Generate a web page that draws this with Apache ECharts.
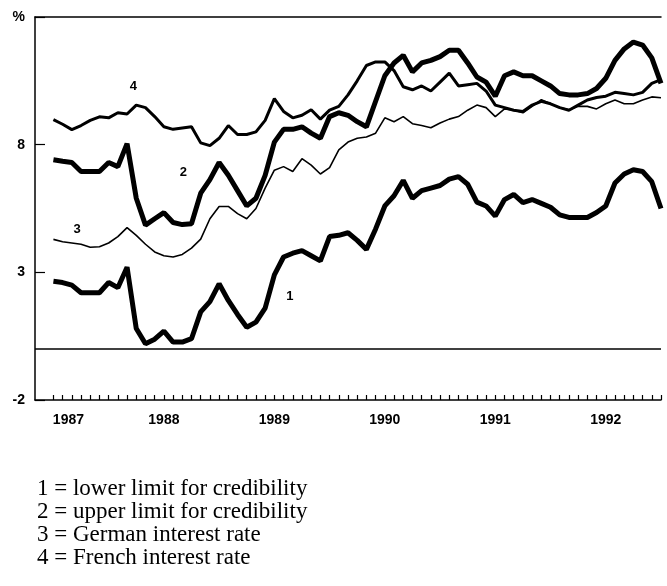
<!DOCTYPE html>
<html>
<head>
<meta charset="utf-8">
<title>Credibility limits</title>
<script src="https://cdn.jsdelivr.net/npm/echarts@6/dist/echarts.min.js"></script>
<style>
  html, body { margin: 0; padding: 0; background: #fff; }
  #chart { width: 667px; height: 586px; }
</style>
</head>
<body>
<div id="chart"></div>
<script>
// monthly categories, two blank months before Jan 1987 so the axis starts left of the first point
var years = ['1987', '1988', '1989', '1990', '1991', '1992'];
var months = [];
for (var m = -2; m <= 66; m++) {
    var y = 1987 + Math.floor(m / 12);
    var mm = ((m % 12) + 12) % 12 + 1;
    months.push(y + '-' + (mm < 10 ? '0' + mm : mm));
}

// 1 = lower limit for credibility
var lowerLimit = [2.65, 2.6, 2.5, 2.2, 2.2, 2.2, 2.6, 2.4, 3.2, 0.8,
    0.2, 0.38, 0.7, 0.27, 0.27, 0.4, 1.45, 1.85, 2.55, 1.9,
    1.35, 0.85, 1.05, 1.6, 2.9, 3.6, 3.75, 3.85, 3.65, 3.45,
    4.4, 4.45, 4.55, 4.25, 3.9, 4.7, 5.6, 6.0, 6.6, 5.9,
    6.2, 6.3, 6.4, 6.65, 6.75, 6.45, 5.75, 5.6, 5.2, 5.85,
    6.05, 5.73, 5.85, 5.7, 5.55, 5.25, 5.15, 5.15, 5.15, 5.34,
    5.6, 6.5, 6.85, 7.02, 6.95, 6.55, 5.5];
// 2 = upper limit for credibility
var upperLimit = [7.41, 7.35, 7.3, 6.95, 6.95, 6.95, 7.3, 7.14, 8.04, 5.9,
    4.85, 5.1, 5.34, 4.95, 4.87, 4.9, 6.1, 6.63, 7.3, 6.8,
    6.2, 5.6, 5.9, 6.8, 8.1, 8.6, 8.6, 8.7, 8.45, 8.25,
    9.1, 9.25, 9.15, 8.9, 8.7, 9.7, 10.7, 11.2, 11.5, 10.85,
    11.2, 11.3, 11.45, 11.7, 11.7, 11.2, 10.65, 10.45, 9.9, 10.7,
    10.85, 10.7, 10.7, 10.5, 10.3, 10.0, 9.95, 9.95, 10.0, 10.2,
    10.6, 11.3, 11.75, 12.02, 11.9, 11.4, 10.4];
// 3 = German interest rate
var germanRate = [4.29, 4.2, 4.15, 4.1, 3.98, 4.0, 4.15, 4.4, 4.75, 4.45,
    4.1, 3.8, 3.65, 3.6, 3.7, 3.95, 4.3, 5.1, 5.58, 5.58,
    5.3, 5.1, 5.5, 6.3, 7.0, 7.14, 6.95, 7.45, 7.2, 6.85,
    7.1, 7.8, 8.1, 8.25, 8.3, 8.45, 9.05, 8.9, 9.1, 8.82,
    8.75, 8.66, 8.85, 9.0, 9.1, 9.35, 9.55, 9.45, 9.1, 9.4,
    9.35, 9.25, 9.5, 9.76, 9.6, 9.45, 9.37, 9.5, 9.5, 9.4,
    9.6, 9.75, 9.6, 9.6, 9.75, 9.87, 9.84];
// 4 = French interest rate
var frenchRate = [8.98, 8.8, 8.59, 8.75, 8.95, 9.09, 9.05, 9.25, 9.2, 9.55,
    9.45, 9.1, 8.7, 8.6, 8.65, 8.7, 8.07, 7.96, 8.25, 8.75,
    8.4, 8.4, 8.5, 8.95, 9.8, 9.3, 9.05, 9.15, 9.37, 9.0,
    9.35, 9.5, 9.95, 10.5, 11.1, 11.24, 11.24, 10.9, 10.27, 10.15,
    10.3, 10.1, 10.45, 10.8, 10.3, 10.35, 10.4, 10.1, 9.55, 9.45,
    9.35, 9.3, 9.55, 9.7, 9.6, 9.45, 9.35, 9.55, 9.75, 9.85,
    9.9, 10.05, 10.0, 9.95, 10.05, 10.4, 10.55];

var legendLines = [
    '1 = lower limit for credibility',
    '2 = upper limit for credibility',
    '3 = German interest rate',
    '4 = French interest rate'
];

function pad(arr) {
    return [null, null].concat(arr);
}

// small number tag placed at a category / value
function tag(text, cat, val, dx) {
    return {
        symbol: 'circle',
        symbolSize: 0,
        silent: true,
        label: {
            show: true, position: 'inside', formatter: text, offset: [dx, 0],
            color: '#000', fontFamily: 'Liberation Sans', fontSize: 13, fontWeight: 'bold'
        },
        data: [{ coord: [months[cat + 2], val] }]
    };
}

var chart = echarts.init(document.getElementById('chart'));

var axisFont = { color: '#000', fontFamily: 'Liberation Sans', fontSize: 14, fontWeight: 'bold' };

var option = {
    animation: false,
    backgroundColor: '#fff',
    grid: { left: 35, right: 6, top: 17, bottom: 186, containLabel: false },
    xAxis: [{
        type: 'category',
        data: months,
        boundaryGap: false,
        axisLine: { show: true, onZero: false, lineStyle: { color: '#000', width: 1.5 } },
        axisTick: {
            show: true, inside: true, length: 5,
            interval: function (index) { return index >= 2; },
            lineStyle: { color: '#000', width: 1.2 }
        },
        axisLabel: Object.assign({
            interval: function (index) { return index >= 2 && (index - 2) % 12 === 0; },
            margin: 13,
            formatter: function (value, index) {
                var y = years[Math.floor((index - 2) / 12)];
                return index === 2 ? '{first|' + y + '}' : y;
            },
            rich: { first: Object.assign({ padding: [0, 0, 0, 30] }, axisFont) }
        }, axisFont),
        splitLine: { show: false }
    }, {
        type: 'category',
        data: months,
        position: 'top',
        boundaryGap: false,
        axisLine: { show: true, onZero: false, lineStyle: { color: '#000', width: 1.5 } },
        axisTick: { show: false },
        axisLabel: { show: false },
        splitLine: { show: false }
    }],
    yAxis: {
        type: 'value',
        min: -2,
        max: 13,
        interval: 5,
        axisLine: { show: true, lineStyle: { color: '#000', width: 1.5 } },
        axisTick: { show: true, inside: true, length: 10, lineStyle: { color: '#000', width: 1.2 } },
        axisLabel: Object.assign({
            margin: 10,
            formatter: function (v) { return v === 13 ? '%' : String(v); }
        }, axisFont),
        splitLine: { show: false }
    },
    series: [{
        name: 'lower limit for credibility',
        type: 'line',
        data: pad(lowerLimit),
        symbol: 'none',
        lineStyle: { color: '#000', width: 5 },
        markPoint: tag('1', 26, 2.06, -3),
        markLine: {
            silent: true,
            symbol: 'none',
            label: { show: false },
            lineStyle: { color: '#000', width: 1.5, type: 'solid' },
            data: [{ yAxis: 0 }]
        }
    }, {
        name: 'upper limit for credibility',
        type: 'line',
        data: pad(upperLimit),
        symbol: 'none',
        lineStyle: { color: '#000', width: 5 },
        markPoint: tag('2', 14, 6.9, 1)
    }, {
        name: 'German interest rate',
        type: 'line',
        data: pad(germanRate),
        symbol: 'none',
        lineStyle: { color: '#000', width: 1.6 },
        markPoint: tag('3', 3, 4.68, -4)
    }, {
        name: 'French interest rate',
        type: 'line',
        data: pad(frenchRate),
        symbol: 'none',
        lineStyle: { color: '#000', width: 3 },
        markPoint: tag('4', 9, 10.27, -3)
    }],
    graphic: [{
        type: 'text',
        left: 37,
        top: 477,
        style: {
            text: legendLines.join('\n'),
            fontFamily: 'Liberation Serif',
            fontSize: 23,
            lineHeight: 23,
            fill: '#000'
        }
    }]
};

chart.setOption(option);
</script>
</body>
</html>
